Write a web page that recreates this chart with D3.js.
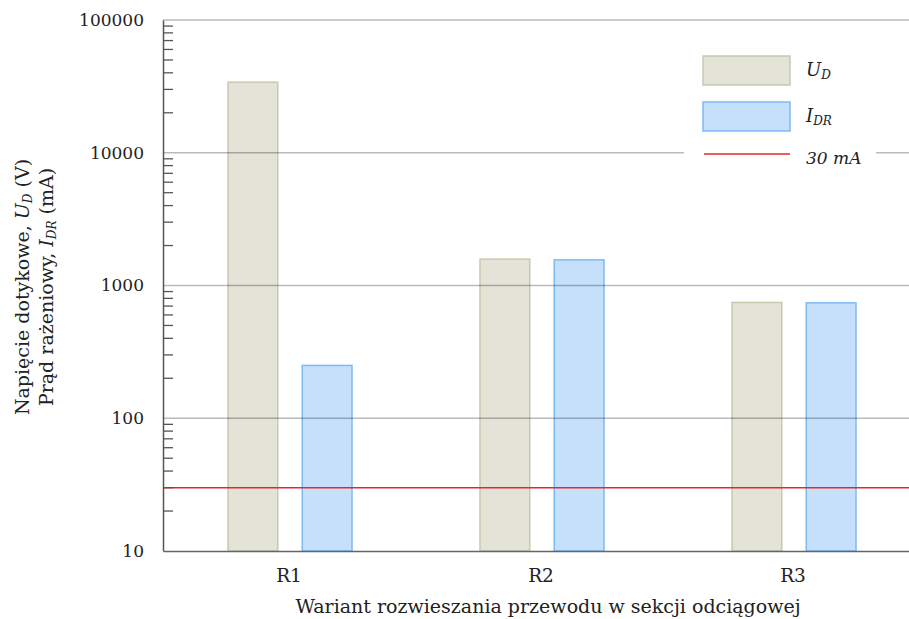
<!DOCTYPE html>
<html>
<head>
<meta charset="utf-8">
<script src="https://cdn.jsdelivr.net/npm/d3@7"></script>
<style>
  body { margin: 0; background: #fff; }
  svg text { font-family: "DejaVu Serif", serif; fill: #222; }
</style>
</head>
<body>
<div class="container"></div>
<script>
// dane
const categories = ["R1", "R2", "R3"]
const seriesKeys = ["UD", "IDR"]
const napiecieUD = [34000, 1580, 745]   // V
const pradIDR = [250, 1560, 740]        // mA
const limitValue = 30                   // mA
const yTickValues = [10, 100, 1000, 10000, 100000]

const width = 909
const height = 619
const margin = { top: 20, bottom: 68, left: 163, right: 0 }

const svg = d3.select(".container").append("svg").attr("width", width).attr("height", height)
const barGroup = svg.append("g").attr("id", "barGroup")
const gridGroup = svg.append("g").attr("id", "gridGroup")
const axisGroup = svg.append("g").attr("id", "axisGroup")
const legendGroup = svg.append("g").attr("id", "legendGroup")

// skale
const x = d3.scaleBand().domain(categories).range([margin.left, margin.left + 756])
const x1 = d3.scaleBand().domain(seriesKeys).range([65, 189]).paddingInner(0.33)
const y = d3.scaleLog().domain([10, 100000]).range([height - margin.bottom, margin.top])

const colors = {
  UD: { fill: "#e3e3d8", stroke: "#c9c9ad" },
  IDR: { fill: "#c6e0fb", stroke: "#7cbaf6" }
}

const data = categories.map((c, i) => ({ cat: c, UD: napiecieUD[i], IDR: pradIDR[i] }))

// słupki
barGroup.selectAll("g").data(data).join("g")
  .attr("transform", d => `translate(${x(d.cat)},0)`)
  .selectAll("rect").data(d => seriesKeys.map(k => ({ key: k, value: d[k] })))
  .join("rect")
  .attr("x", d => x1(d.key))
  .attr("y", d => y(d.value))
  .attr("width", x1.bandwidth())
  .attr("height", d => y(10) - y(d.value))
  .attr("fill", d => colors[d.key].fill)
  .attr("stroke", d => colors[d.key].stroke)
  .attr("stroke-width", 1.5)

// siatka
gridGroup.selectAll("line").data(yTickValues.slice(1)).join("line")
  .attr("x1", margin.left).attr("x2", width)
  .attr("y1", d => y(d)).attr("y2", d => y(d))
  .attr("stroke", "rgba(0,0,0,0.27)").attr("stroke-width", 1.5)

// linia 30 mA
gridGroup.append("line")
  .attr("x1", margin.left).attr("x2", width)
  .attr("y1", y(limitValue)).attr("y2", y(limitValue))
  .attr("stroke", "#e8262a").attr("stroke-width", 1.5)

// oś Y
const yAxis = d3.axisLeft(y).tickValues(yTickValues).tickFormat(d3.format("d")).tickSize(0).tickPadding(19)
const yAxisGroup = axisGroup.append("g").attr("transform", `translate(${margin.left},0)`).call(yAxis)
yAxisGroup.select(".domain").attr("stroke", "#555").attr("stroke-width", 1.5)
yAxisGroup.selectAll("text").style("font-size", "17px").attr("fill", "#222")

const minorTicks = y.ticks().filter(v => !yTickValues.includes(v))
axisGroup.append("g").selectAll("line").data(minorTicks).join("line")
  .attr("x1", margin.left).attr("x2", margin.left + 10)
  .attr("y1", d => y(d)).attr("y2", d => y(d))
  .attr("stroke", "#555").attr("stroke-width", 1.3)

// oś X
const xAxis = d3.axisBottom(x).tickSize(0).tickPadding(18)
const xAxisGroup = axisGroup.append("g").attr("transform", `translate(0,${height - margin.bottom})`).call(xAxis)
xAxisGroup.select(".domain").attr("stroke", "#666").attr("stroke-width", 1.5)
xAxisGroup.selectAll("text").style("font-size", "18.5px").attr("fill", "#222")

svg.append("text")
  .attr("x", 548).attr("y", 613)
  .style("text-anchor", "middle").style("font-size", "19px")
  .text("Wariant rozwieszania przewodu w sekcji odciągowej")

// tytuł osi Y
const yTitle = svg.append("text")
  .attr("transform", "translate(0,287) rotate(-90)")
  .style("text-anchor", "middle").style("font-size", "19px")
const l1 = yTitle.append("tspan").attr("x", 0).attr("y", 29)
l1.append("tspan").text("Napięcie dotykowe, ")
l1.append("tspan").style("font-style", "italic").text("U")
l1.append("tspan").style("font-style", "italic").style("font-size", "12px").attr("dy", 3).text("D")
l1.append("tspan").attr("dy", -3).text(" (V)")
const l2 = yTitle.append("tspan").attr("x", 0).attr("y", 53)
l2.append("tspan").text("Prąd rażeniowy, ")
l2.append("tspan").style("font-style", "italic").text("I")
l2.append("tspan").style("font-style", "italic").style("font-size", "12px").attr("dy", 3).text("DR")
l2.append("tspan").attr("dy", -3).text(" (mA)")

// legenda
legendGroup.append("rect").attr("x", 684).attr("y", 40).attr("width", 192).attr("height", 140).attr("fill", "#fff")
const legendItems = [
  { key: "UD", main: "U", sub: "D", y: 71 },
  { key: "IDR", main: "I", sub: "DR", y: 117 }
]
legendItems.forEach(it => {
  legendGroup.append("rect").attr("x", 703).attr("y", it.y - 15).attr("width", 87).attr("height", 29)
    .attr("fill", colors[it.key].fill).attr("stroke", colors[it.key].stroke).attr("stroke-width", 1.5)
  const t = legendGroup.append("text").attr("x", 806).attr("y", it.y + 5).style("font-size", "18px").style("font-style", "italic")
  t.append("tspan").text(it.main)
  t.append("tspan").style("font-size", "12px").attr("dy", 3).text(it.sub)
})
legendGroup.append("line").attr("x1", 704).attr("x2", 790).attr("y1", 154).attr("y2", 154)
  .attr("stroke", "#e8262a").attr("stroke-width", 1.5)
legendGroup.append("text").attr("x", 806).attr("y", 164).style("font-size", "17px").style("font-style", "italic").text("30 mA")
</script>
</body>
</html>
